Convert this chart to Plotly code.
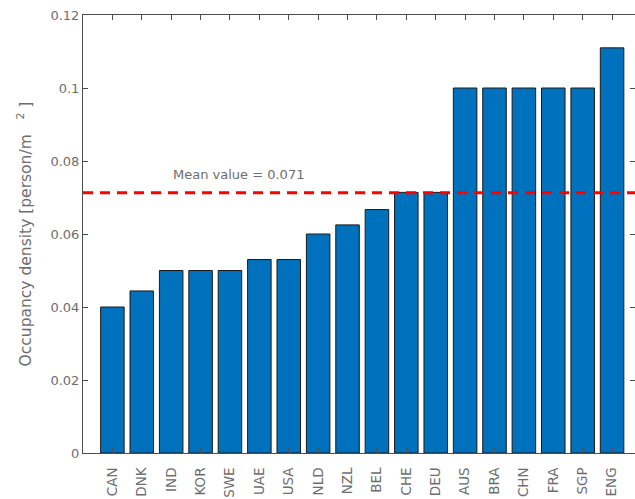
import plotly.graph_objects as go

countries = ["CAN", "DNK", "IND", "KOR", "SWE", "UAE", "USA", "NLD", "NZL",
             "BEL", "CHE", "DEU", "AUS", "BRA", "CHN", "FRA", "SGP", "ENG"]
density = [0.04, 0.0444, 0.05, 0.05, 0.05, 0.053, 0.053, 0.06, 0.0625,
           0.0667, 0.0714, 0.0714, 0.1, 0.1, 0.1, 0.1, 0.1, 0.111]

mean_val = sum(density) / len(density)
grey = "#6e6e6e"
axis_col = "#4d4d4d"

fig = go.Figure()
fig.add_bar(
    x=list(range(len(countries))),
    y=density,
    width=0.8,
    marker_color="#0072BD",
    marker_line_color="#1a1a1a",
    marker_line_width=1,
    showlegend=False,
)

fig.add_shape(type="line", xref="x", yref="y",
              x0=-1, x1=len(countries), y0=mean_val, y1=mean_val,
              line=dict(color="#ff0000", width=3, dash="10px,7px"))

fig.add_annotation(x=2, y=0.0764, xref="x", yref="y",
                   text=f"Mean value = {mean_val:.3f}", showarrow=False,
                   xanchor="left", yanchor="middle",
                   font=dict(size=13, color=grey))

fig.update_xaxes(
    range=[-1, 17.78],
    tickmode="array",
    tickvals=list(range(len(countries))),
    ticktext=countries,
    tickangle=-90,
    ticks="inside", ticklen=5, tickcolor=axis_col,
    showline=True, linecolor=axis_col, linewidth=1, mirror="ticks",
    showgrid=False, zeroline=False, automargin=False,
    ticklabelstandoff=8,
    tickfont=dict(size=13.5, color=grey),
)
fig.update_yaxes(
    range=[0, 0.12],
    tickvals=[0, 0.02, 0.04, 0.06, 0.08, 0.1, 0.12],
    ticktext=["0", "0.02", "0.04", "0.06", "0.08", "0.1", "0.12"],
    ticks="inside", ticklen=5, tickcolor=axis_col,
    showline=True, linecolor=axis_col, linewidth=1, mirror="ticks",
    showgrid=False, zeroline=False, automargin=True,
    tickfont=dict(size=13, color=grey),
    title=dict(text="Occupancy density [person/m   <sup>2</sup> ]",
               font=dict(size=15.5, color=grey), standoff=15),
)

fig.update_layout(
    width=635, height=499,
    margin=dict(l=83, r=0, t=15, b=46),
    plot_bgcolor="white", paper_bgcolor="white",
    font=dict(family="DejaVu Sans", color=grey),
    bargap=0.2,
)

# drop the default page margin so the figure sits at the window corner
fig.write_html("out.html", config={"displayModeBar": False},
               post_script="document.body.style.margin='0';")
